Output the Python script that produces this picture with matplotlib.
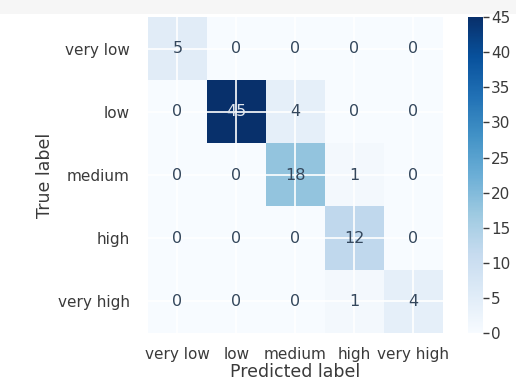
import numpy as np
import matplotlib
matplotlib.use("Agg")
import matplotlib.pyplot as plt
from matplotlib.patches import Rectangle

labels = ["very low", "low", "medium", "high", "very high"]
row_very_low = [5, 0, 0, 0, 0]
row_low = [0, 45, 4, 0, 0]
row_medium = [0, 0, 18, 1, 0]
row_high = [0, 0, 0, 12, 0]
row_very_high = [0, 0, 0, 1, 4]

cm = np.array([row_very_low, row_low, row_medium, row_high, row_very_high])

plt.rcParams["font.family"] = "DejaVu Sans"
text_gray = "#3a3a3a"

fig = plt.figure(figsize=(5.16, 3.89), dpi=100)
# faint toolbar band along the top edge
fig.patches.append(Rectangle((0, 0.965), 1, 0.035, transform=fig.transFigure,
                             facecolor="#f6f6f6", edgecolor="none", zorder=-1))

ax = fig.add_axes([0.2868, 0.144, 0.5717, 0.812])
cax = fig.add_axes([0.907, 0.144, 0.029, 0.812])

cmap = plt.get_cmap("Blues")
im = ax.imshow(cm, cmap=cmap, vmin=0, vmax=cm.max(), aspect="auto",
               interpolation="nearest", zorder=0)

thresh = cm.max() / 2
for i in range(cm.shape[0]):
    for j in range(cm.shape[1]):
        color = "#dfe6ee" if cm[i, j] > thresh else "#34475c"
        ax.text(j, i, str(cm[i, j]), ha="center", va="center", color=color,
                fontsize=11.5, zorder=3)

ax.set_xticks(range(len(labels)))
ax.set_yticks(range(len(labels)))
ax.set_xticklabels(labels)
ax.set_yticklabels(labels)
ax.tick_params(axis="y", length=0, colors=text_gray, pad=13, labelsize=11)
ax.tick_params(axis="x", length=0, colors=text_gray, pad=10, labelsize=11)
ax.set_xlabel("Predicted label", color=text_gray, fontsize=12.5, labelpad=1)
ax.set_ylabel("True label", color=text_gray, fontsize=12.5, labelpad=3)
ax.grid(True, color="white", linewidth=1.2, zorder=1)
ax.set_axisbelow(False)
for s in ax.spines.values():
    s.set_visible(False)

cb = fig.colorbar(im, cax=cax)
cb.outline.set_visible(False)
cb.set_ticks([0, 5, 10, 15, 20, 25, 30, 35, 40, 45])
cax.tick_params(length=4, width=1, colors=text_gray, pad=2, labelsize=11)

fig.savefig("out.png", dpi=100, facecolor="white")
